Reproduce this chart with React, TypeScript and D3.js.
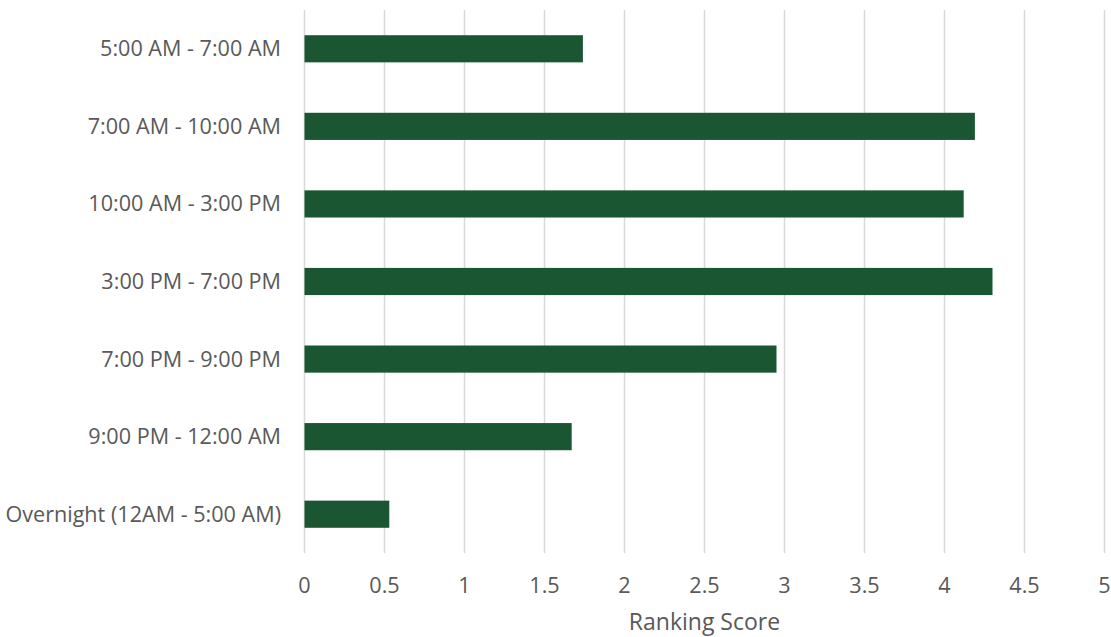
import React from 'react';
import * as d3 from 'd3';

const categories = [
  '5:00 AM - 7:00 AM',
  '7:00 AM - 10:00 AM',
  '10:00 AM - 3:00 PM',
  '3:00 PM - 7:00 PM',
  '7:00 PM - 9:00 PM',
  '9:00 PM - 12:00 AM',
  'Overnight (12AM - 5:00 AM)',
];
const scores = [1.74, 4.19, 4.12, 4.3, 2.95, 1.67, 0.53];
const xTicks = [0, 0.5, 1, 1.5, 2, 2.5, 3, 3.5, 4, 4.5, 5];

const W = 1111;
const H = 637;
const left = 304.5;
const right = 1104.5;
const top = 10;
const bottom = 553;
const textColor = '#595959';
const font = '"Open Sans", sans-serif';

const App = () => {
  const x = d3.scaleLinear().domain([0, 5]).range([left, right]);
  const y = d3
    .scaleBand<string>()
    .domain(categories)
    .range([top, bottom])
    .paddingInner(0.65)
    .paddingOuter(0.325);

  return (
    <svg
      width={W}
      height={H}
      style={{ position: 'absolute', left: 0, top: 0, background: '#fff' }}
    >
      {xTicks.map((t) => (
        <line
          key={'g' + t}
          x1={x(t)}
          x2={x(t)}
          y1={top}
          y2={bottom}
          stroke="#d9d9d9"
          strokeWidth={1.5}
        />
      ))}
      {categories.map((c, i) => (
        <rect
          key={c}
          x={x(0)}
          y={y(c)}
          width={x(scores[i]) - x(0)}
          height={y.bandwidth()}
          fill="#1a5632"
        />
      ))}
      {categories.map((c) => (
        <text
          key={'l' + c}
          x={281}
          y={(y(c) ?? 0) + y.bandwidth() / 2}
          dy="0.35em"
          textAnchor="end"
          fill={textColor}
          fontFamily={font}
          fontSize={21.6}
        >
          {c}
        </text>
      ))}
      {xTicks.map((t) => (
        <text
          key={'t' + t}
          x={x(t)}
          y={585}
          dy="0.35em"
          textAnchor="middle"
          fill={textColor}
          fontFamily={font}
          fontSize={21.6}
        >
          {t}
        </text>
      ))}
      <text
        x={(left + right) / 2}
        y={622}
        dy="0.35em"
        textAnchor="middle"
        fill={textColor}
        fontFamily={font}
        fontSize={23}
      >
        Ranking Score
      </text>
    </svg>
  );
};

export default App;
